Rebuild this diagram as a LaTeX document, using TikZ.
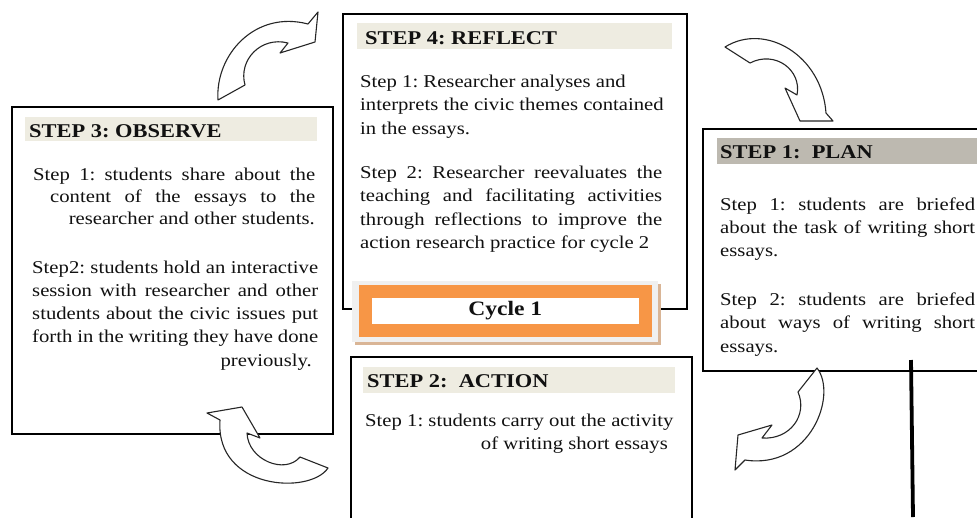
\documentclass[tikz,border=0pt]{standalone}
\usepackage{fontspec}
\setmainfont[FakeStretch=1.15]{Liberation Serif}
\definecolor{bandA}{HTML}{EEECE1}
\definecolor{bandB}{HTML}{BDB9B0}
\definecolor{cyor}{HTML}{F79646}
\definecolor{cygray}{HTML}{F0F0F0}
\definecolor{cytan}{HTML}{D9B596}
\definecolor{ink}{HTML}{111111}
\tikzset{
 stepbox/.style={draw=black, line width=1.4pt, fill=white, inner sep=0pt, outer sep=0pt},
 band/.style={inner sep=0pt, outer sep=0pt, anchor=north west},
 head/.style={font=\fontsize{19.5}{22}\selectfont\bfseries, inner sep=0pt, anchor=base west, text=ink},
 body/.style={font=\fontsize{18}{22}\selectfont, inner sep=0pt, anchor=base west, text=ink},
 bodyr/.style={body, anchor=base east},
 curvearrow/.style={draw=black!85, line width=1.1pt, fill=white, line join=round},
 cyclebox/.style={draw=cyor, line width=13pt, fill=white, inner sep=0pt, font=\fontsize{20.5}{24}\selectfont\bfseries, text=ink},
}
\newcommand{\jl}[2]{\makebox[#1pt][s]{#2}}
\begin{document}
\frenchspacing
\begin{tikzpicture}[x=1pt,y=-1pt]
\clip (0,0) rectangle (977,517);
\fill[white] (0,0) rectangle (977,517);
% boxes
\node[stepbox, minimum width=321pt, minimum height=327pt] (obs) at (172.5,270.5) {};
\node[stepbox, minimum width=344pt, minimum height=295pt] (refl) at (515,161.5) {};
\node[stepbox, minimum width=300pt, minimum height=242pt] (plan) at (853,250) {};
\node[stepbox, minimum width=341pt, minimum height=190pt] (act) at (521.5,452) {};
% header bands
\node[band, fill=bandA, minimum width=292pt, minimum height=24pt] (b3) at (25,117) {};
\node[band, fill=bandA, minimum width=315pt, minimum height=26pt] (b4) at (357,23) {};
\node[band, fill=bandB, minimum width=280pt, minimum height=26pt] (b1) at (717,138) {};
\node[band, fill=bandA, minimum width=312pt, minimum height=26pt] (b2) at (363,367) {};
% step 4
\node[head] (h4) at (365,44) {STEP 4: REFLECT};
\node[body] (r1) at (360,87) {Step 1: Researcher analyses and};
\node[body] (r2) at (360,110.5) {interprets the civic themes contained};
\node[body] (r3) at (360,134) {in the essays.};
\node[body] (r4) at (360,178) {\jl{302}{Step 2: Researcher reevaluates the}};
\node[body] (r5) at (360,201.5) {\jl{302}{teaching and facilitating activities}};
\node[body] (r6) at (360,225) {\jl{302}{through reflections to improve the}};
\node[body] (r7) at (360,248.5) {action research practice for cycle 2};
% step 3
\node[head] (h3) at (29,137) {STEP 3: OBSERVE};
\node[body] (o1) at (33,180) {\jl{282}{Step 1: students share about the}};
\node[body] (o2) at (50,202) {\jl{265}{content of the essays to the}};
\node[bodyr] (o3) at (315,224) {researcher and other students.};
\node[body] (o4) at (32,273) {\jl{286}{Step2: students hold an interactive}};
\node[body] (o5) at (32,296) {\jl{286}{session with researcher and other}};
\node[body] (o6) at (32,319) {\jl{286}{students about the civic issues put}};
\node[body] (o7) at (32,342) {\jl{286}{forth in the writing they have done}};
\node[bodyr] (o8) at (312,366) {previously.};
% step 1
\node[head] (h1) at (720,158) {STEP 1:\ \ PLAN};
\node[body] (p1) at (720,210) {\jl{255}{Step 1: students are briefed}};
\node[body] (p2) at (720,233) {\jl{255}{about the task of writing short}};
\node[body] (p3) at (720,256) {essays.};
\node[body] (p4) at (720,305) {\jl{255}{Step 2: students are briefed}};
\node[body] (p5) at (720,328) {\jl{255}{about ways of writing short}};
\node[body] (p6) at (720,352) {essays.};
% step 2
\node[head] (h2) at (367,387) {STEP 2:\ \ ACTION};
\node[body] (a1) at (365,426) {Step 1: students carry out the activity};
\node[bodyr] (a2) at (668,449) {of writing short essays};
% cycle box
\fill[cytan] (355,284) rectangle (661,345);
\fill[cygray] (352,281) rectangle (658,342);
\node[cyclebox, minimum width=279.5pt, minimum height=39pt] (cyc) at (505.25,311) {Cycle 1};
% curved block arrows
\draw[curvearrow] (218,100) .. controls (215,55) and (255,10) .. (308,24) -- (318,12) -- (315,42) -- (280,53) -- (288,43) .. controls (261,36) and (238,60) .. (245,85) -- cycle;
\draw[curvearrow] (725,47) .. controls (765,22) and (822,55) .. (826,113) -- (833,121) -- (800,121) -- (785,88) -- (797,95) .. controls (802,70) and (775,50) .. (750,63) -- cycle;
\draw[curvearrow] (817,368) .. controls (838,395) and (810,470) .. (745,460) -- (735,470) -- (738,435) -- (772,425) -- (762,438) .. controls (790,440) and (808,415) .. (798,392) -- cycle;
\draw[curvearrow] (207,413) -- (242,407) -- (260,438) -- (247,433) .. controls (248,460) and (285,475) .. (300,457) -- (328,468) .. controls (310,495) and (215,490) .. (220,420) -- cycle;
% vertical line
\coordinate (vtop) at (911,360);
\coordinate (vbot) at (913,517);
\draw[line width=3.8pt] (vtop) -- (vbot);
\end{tikzpicture}
\end{document}
